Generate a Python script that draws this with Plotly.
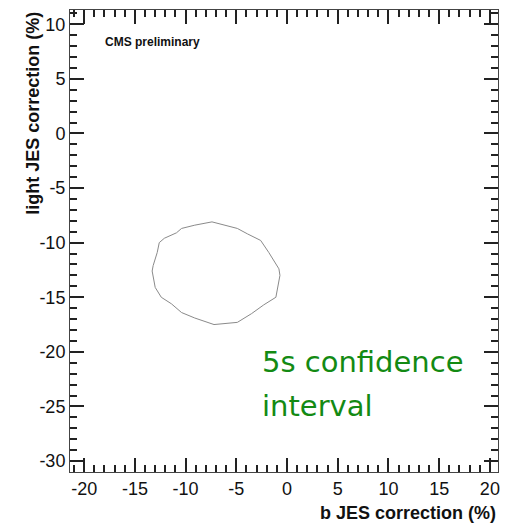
import plotly.graph_objects as go

# Contour of the 5 sigma confidence region (b JES %, light JES %)
contour_b = [-7.4, -4.9, -3.9, -2.6, -1.8, -0.8, -0.7, -1.1, -2.3, -3.5, -4.9, -7.2,
             -9.1, -10.4, -11.4, -12.4, -13.0, -13.3, -13.2, -12.8, -12.6, -12.1,
             -10.9, -10.4, -9.1, -7.4]
contour_light = [-8.1, -8.7, -9.2, -9.8, -10.9, -12.4, -13.0, -15.0, -15.7, -16.5, -17.3, -17.5,
                 -16.9, -16.4, -15.6, -15.0, -14.1, -12.6, -12.1, -10.9, -10.0, -9.6,
                 -9.1, -8.7, -8.4, -8.1]

x_ticks = [-20, -15, -10, -5, 0, 5, 10, 15, 20]
y_ticks = [-30, -25, -20, -15, -10, -5, 0, 5, 10]

fig = go.Figure()
fig.add_trace(go.Scatter(x=contour_b, y=contour_light, mode="lines",
                         line=dict(color="#8a8a8a", width=1), showlegend=False,
                         hoverinfo="skip"))

axis_common = dict(
    showgrid=False, zeroline=False, showline=True, linecolor="#444", linewidth=1,
    mirror="allticks", ticks="inside", ticklen=14, tickwidth=1.5, tickcolor="#222",
    tickfont=dict(family="Liberation Sans, Arial", size=18, color="#111"),
    minor=dict(ticks="inside", ticklen=7, dtick=1, tickwidth=1.5, tickcolor="#222", showgrid=False),
)

fig.update_layout(
    width=506, height=525,
    margin=dict(l=70, r=6, t=10, b=53),
    paper_bgcolor="white", plot_bgcolor="white",
    xaxis=dict(range=[-21.4, 20.8], tickvals=x_ticks, ticktext=[str(v) for v in x_ticks],
               **axis_common),
    yaxis=dict(range=[-31.0, 11.3], tickvals=y_ticks, ticktext=[str(v) for v in y_ticks],
               **axis_common),
    annotations=[
        dict(text="<b>b JES correction (%)</b>", xref="paper", yref="paper",
             x=1.0, y=-0.089, xanchor="right", yanchor="middle", showarrow=False,
             font=dict(family="Liberation Sans, Arial", size=18, color="#111")),
        dict(text="<b>light JES correction (%)</b>", xref="paper", yref="paper",
             x=-0.088, y=1.0, xanchor="center", yanchor="top", textangle=-90, showarrow=False,
             font=dict(family="Liberation Sans, Arial", size=18, color="#111")),
        dict(text="<b>CMS preliminary</b>", xref="paper", yref="paper",
             x=0.077, y=0.931, xanchor="left", yanchor="middle", showarrow=False,
             font=dict(family="Liberation Sans, Arial", size=12, color="#111")),
        dict(text="5s confidence", xref="paper", yref="paper",
             x=0.445, y=(472 - 362) / 462, xanchor="left", yanchor="middle", showarrow=False,
             font=dict(family="DejaVu Sans", size=29, color="#138a13")),
        dict(text="interval", xref="paper", yref="paper",
             x=0.445, y=(472 - 406) / 462, xanchor="left", yanchor="middle", showarrow=False,
             font=dict(family="DejaVu Sans", size=29, color="#138a13")),
    ],
)

fig.write_html("out.html")
